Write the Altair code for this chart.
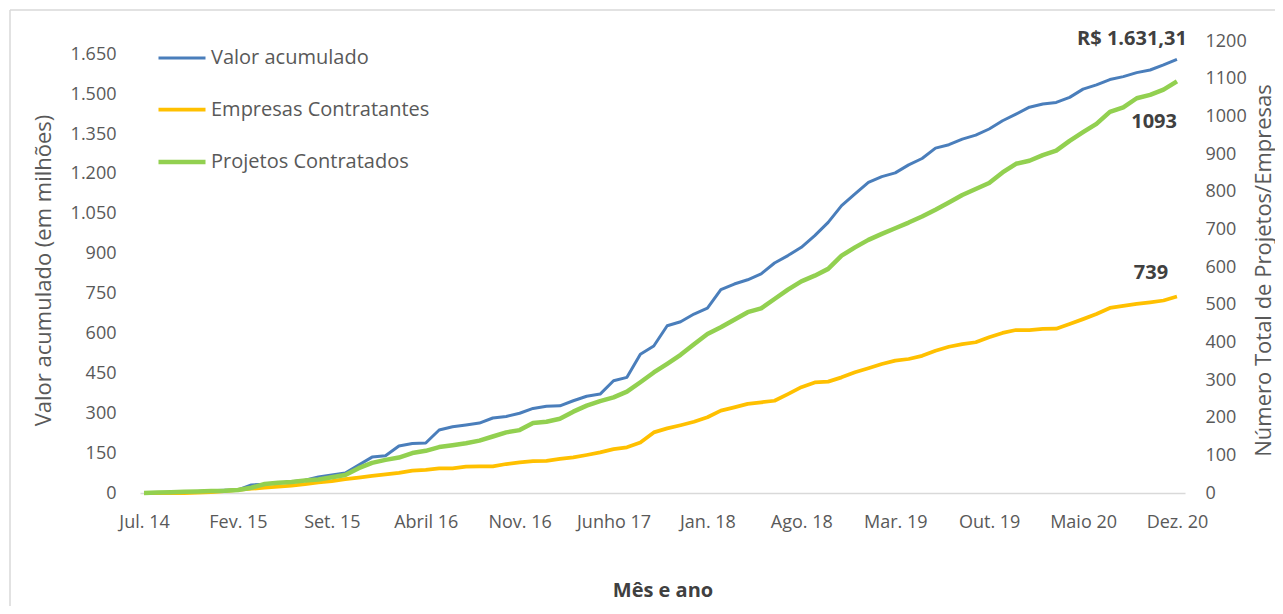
import json
import altair as alt
import pandas as pd

# ---- data ----
months = ["Jul. 14", "Fev. 15", "Set. 15", "Abril 16", "Nov. 16", "Junho 17",
          "Jan. 18", "Ago. 18", "Mar. 19", "Out. 19", "Maio 20", "Dez. 20"]
tick_idx = [0, 7, 14, 21, 28, 35, 42, 49, 56, 63, 70, 77]

valor = [0, 1, 3, 4, 6, 8, 10, 12, 30, 33, 38, 42, 48, 60, 68, 75, 105, 135, 140, 177,
         186, 188, 237, 249, 256, 263, 282, 288, 300, 318, 326, 328, 347, 364, 372, 422, 435, 522, 553, 629,
         644, 673, 695, 765, 786, 802, 824, 865, 893, 924, 968, 1018, 1081, 1125, 1168, 1190, 1204, 1234, 1258, 1297,
         1310, 1331, 1346, 1369, 1400, 1425, 1451, 1463, 1469, 1488, 1519, 1535, 1555, 1566, 1581, 1591, 1610, 1631.31]

empresas = [0, 0, 0, 0, 1, 3, 7, 12, 16, 20, 24, 28, 33, 40, 45, 52, 58, 64, 70, 76,
            84, 87, 93, 93, 99, 100, 100, 109, 115, 120, 121, 128, 134, 143, 153, 165, 172, 190, 228, 243,
            255, 268, 285, 310, 322, 335, 341, 347, 372, 398, 416, 419, 435, 454, 469, 485, 498, 504, 516, 535,
            550, 560, 567, 586, 602, 613, 613, 617, 618, 636, 654, 673, 696, 704, 711, 717, 724, 739]

projetos = [0, 1, 2, 3, 4, 5, 6, 8, 14, 24, 27, 29, 33, 36, 42, 48, 66, 80, 88, 94,
            106, 112, 122, 127, 132, 139, 150, 161, 167, 186, 189, 197, 216, 232, 244, 254, 269, 294, 320, 343,
            367, 395, 422, 440, 460, 480, 490, 515, 540, 562, 577, 595, 630, 652, 672, 688, 703, 718, 734, 752,
            771, 791, 807, 823, 851, 874, 882, 897, 909, 935, 958, 980, 1012, 1024, 1048, 1057, 1071, 1093]

series = ["Valor acumulado", "Empresas Contratantes", "Projetos Contratados"]
colors = ["#4A7EBB", "#FFC000", "#92D050"]
widths = [3, 4.5, 4.5]

n = len(valor)
lab_valor = "R$ " + f"{valor[-1]:,.2f}".replace(",", "X").replace(".", ",").replace("X", ".")

df_left = pd.DataFrame({
    "idx": list(range(n)) * 2,
    "valor": valor + empresas,
    "serie": [series[0]] * n + [series[1]] * n,
})
df_left["lab"] = ""
df_left.loc[(df_left.idx == n - 1) & (df_left.serie == series[0]), "lab"] = lab_valor
df_left.loc[(df_left.idx == n - 1) & (df_left.serie == series[1]), "lab"] = str(empresas[-1])

df_right = pd.DataFrame({"idx": list(range(n)), "valor": projetos, "serie": series[2]})
df_right["lab"] = ""
df_right.loc[df_right.idx == n - 1, "lab"] = str(projetos[-1])

FONT = "Open Sans"
GREY = "#595959"

label_expr = json.dumps(months) + "[round(datum.value/7)]"

x_enc = alt.X(
    "idx:Q",
    scale=alt.Scale(domain=[-0.3, 77.6], nice=False, zero=False),
    axis=alt.Axis(values=tick_idx, labelExpr=label_expr, title="Mês e ano", grid=False,
                  ticks=False, domainColor="#D9D9D9", domainWidth=1.5, labelPadding=20,
                  titleY=97, titleBaseline="middle", titleFontWeight="bold", titleColor="#404040",
                  titleFontSize=20, labelFlush=False, labelOverlap=False),
)

color_enc = alt.Color("serie:N", scale=alt.Scale(domain=series, range=colors),
                      legend=alt.Legend(title=None, orient="none", legendX=16, legendY=-8,
                                        symbolType="stroke", symbolSize=2209, symbolStrokeWidth=4,
                                        labelFontSize=20, labelFont=FONT, labelColor=GREY,
                                        labelLimit=0, rowPadding=16, labelOffset=3, padding=0))
sw_enc = alt.StrokeWidth("serie:N", scale=alt.Scale(domain=series, range=widths), legend=None)

y_left = alt.Y("valor:Q", scale=alt.Scale(domain=[0, 1700], nice=False),
               axis=alt.Axis(values=list(range(0, 1651, 150)),
                             labelExpr="replace(format(datum.value, ','), ',', '.')",
                             title="Valor acumulado (em milhões)", grid=False, ticks=False,
                             domain=False, labelPadding=24, titleX=-97, titleY=229,
                             titleBaseline="middle", titleAngle=270))

y_right = alt.Y("valor:Q", scale=alt.Scale(domain=[0, 1200], nice=False),
                axis=alt.Axis(orient="right", values=list(range(0, 1201, 100)), format="d",
                              title="Número Total de Projetos/Empresas", grid=False, ticks=False,
                              domain=False, labelPadding=20, titleX=78, titleY=229,
                              titleBaseline="middle", titleAngle=270))

base_l = alt.Chart(df_left).encode(x=x_enc, y=y_left)
lines_l = base_l.mark_line(strokeJoin="round").encode(color=color_enc, strokeWidth=sw_enc)
txt_style = dict(font=FONT, fontSize=20, fontWeight="bold", color="#404040", baseline="middle")
t_valor = base_l.mark_text(align="right", dx=10, dy=-20, **txt_style).encode(text="lab:N").transform_filter(
    f"datum.idx == {n-1} && datum.serie == '{series[0]}'")
t_emp = base_l.mark_text(align="center", dx=-26, dy=-24, **txt_style).encode(text="lab:N").transform_filter(
    f"datum.idx == {n-1} && datum.serie == '{series[1]}'")
left = alt.layer(lines_l, t_valor, t_emp)

base_r = alt.Chart(df_right).encode(x=x_enc, y=y_right)
lines_r = base_r.mark_line(strokeJoin="round").encode(color=color_enc, strokeWidth=sw_enc)
t_proj = base_r.mark_text(align="right", dx=0, dy=41, **txt_style).encode(text="lab:N").transform_filter(
    f"datum.idx == {n-1}")
right = alt.layer(lines_r, t_proj)

frame_df = pd.DataFrame({"k": [0]})
frame_v = alt.Chart(frame_df).mark_rule(color="#D9D9D9", strokeWidth=1.5).encode(
    x=alt.value(-130), y=alt.value(-31), y2=alt.value(600))
frame_h = alt.Chart(frame_df).mark_rule(color="#D9D9D9", strokeWidth=1.5).encode(
    x=alt.value(-130), x2=alt.value(1200), y=alt.value(-31))

chart = alt.layer(frame_v, frame_h, left, right).resolve_scale(y="independent").properties(
    width=1045, height=452,
    autosize=alt.AutoSizeParams(type="none"),
    padding={"left": 132, "top": 33, "right": 90, "bottom": 113},
).configure_view(stroke=None).configure_axis(
    labelFont=FONT, labelFontSize=18, labelColor=GREY,
    titleFont=FONT, titleFontSize=22, titleColor=GREY, titleFontWeight="normal",
)

chart.save("out.html", embed_options={"renderer": "svg", "actions": False})
